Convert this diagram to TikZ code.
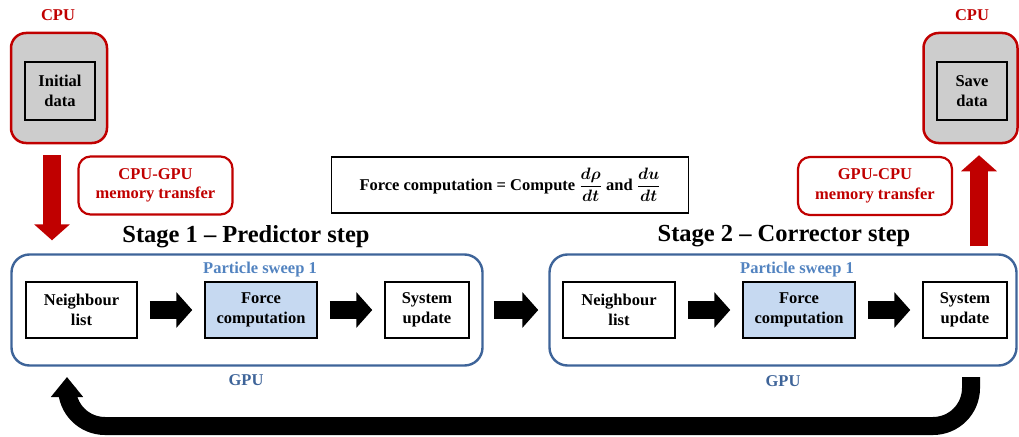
\documentclass[tikz,border=0pt]{standalone}
\usepackage{fix-cm}
\usepackage{amsmath,bm}
\usepackage{fontspec}
\setmainfont{Liberation Serif}
\usetikzlibrary{arrows.meta}
\definecolor{cpured}{HTML}{C00000}
\definecolor{cpugray}{HTML}{CDCDCD}
\definecolor{gpublue}{HTML}{3E6499}
\definecolor{sweepblue}{HTML}{5283C0}
\definecolor{forceblue}{HTML}{C6D9F1}
\tikzset{
  every node/.style={font=\fontsize{16.5}{19.5}\selectfont\bfseries},
  title/.style={font=\fontsize{24.5}{28}\selectfont\bfseries},
  cpubox/.style={draw=cpured, line width=2.5pt, fill=cpugray, rounded corners=15pt, minimum width=96pt, minimum height=110pt},
  databox/.style={draw=black, line width=1.5pt, fill=cpugray, minimum width=70pt, minimum height=58pt, align=center},
  memobox/.style={draw=cpured, line width=2.2pt, rounded corners=12pt, text=cpured, align=center, minimum width=154pt, minimum height=58pt},
  gpubox/.style={draw=gpublue, line width=2.4pt, rounded corners=18pt, minimum height=111pt},
  stepbox/.style={draw=black, line width=1.5pt, fill=white, minimum height=56pt, align=center},
  forcebox/.style={stepbox, fill=forceblue},
  blockarrow/.style={line width=18pt, -{Triangle[width=35pt,length=16pt]}, shorten <=12pt, shorten >=12pt},
  transfer/.style={line width=18pt, cpured, -{Triangle[width=35pt,length=16pt]}},
  looparrow/.style={line width=18pt, rounded corners=38pt, -{Triangle[width=31pt,length=20pt]}}
}
\begin{document}
\begin{tikzpicture}[x=1pt,y=-1pt]
    \useasboundingbox (0,0) rectangle (1019,436);
    % CPU side
    \node[text=cpured] (cpulabel1) at (58,15) {CPU};
    \node[cpubox] (cpu1) at (59,88) {};
    \node[databox] (init) at (60,91) {Initial\\data};
    \node[text=cpured] (cpulabel2) at (972,15) {CPU};
    \node[cpubox, minimum width=94pt] (cpu2) at (970.5,88) {};
    \node[databox] (save) at (972,91) {Save\\data};
    \node[memobox] (memo1) at (155.5,185.5) {CPU-GPU\\memory transfer};
    \node[memobox] (memo2) at (875,186) {GPU-CPU\\memory transfer};
    \node[draw, line width=1.5pt, minimum width=357pt, minimum height=56pt] (eq) at (510,185)
        {Force computation = Compute $\dfrac{\bm{d\rho}}{\bm{dt}}$ and $\dfrac{\bm{du}}{\bm{dt}}$};
    % GPU stages
    \node[title] (stage1) at (246,237) {Stage 1 -- Predictor step};
    \node[title] (stage2) at (784,236) {Stage 2 -- Corrector step};
    \node[gpubox, minimum width=471pt] (gpu1) at (247,310) {};
    \node[gpubox, minimum width=467pt] (gpu2) at (783,310) {};
    \node[text=sweepblue] (sweep1) at (260,270) {Particle sweep 1};
    \node[text=sweepblue] (sweep2) at (797,270) {Particle sweep 1};
    \node[text=gpublue] (gpulabel1) at (246,380) {GPU};
    \node[text=gpublue] (gpulabel2) at (783,381) {GPU};
    \node[stepbox, minimum width=111pt] (nl1) at (81.5,310) {Neighbour\\list};
    \node[forcebox, minimum width=112pt] (fc1) at (261,310) {Force\\computation};
    \node[stepbox, minimum width=84pt] (su1) at (427,310) {System\\update};
    \node[stepbox, minimum width=112pt] (nl2) at (619,310) {Neighbour\\list};
    \node[forcebox, minimum width=112pt] (fc2) at (799,310) {Force\\computation};
    \node[stepbox, minimum width=84pt] (su2) at (965,310) {System\\update};
    % arrows
    \draw[blockarrow] (nl1) -- (fc1);
    \draw[blockarrow] (fc1) -- (su1);
    \draw[blockarrow, shorten <=24pt, shorten >=24pt] (su1) -- (nl2);
    \draw[blockarrow] (nl2) -- (fc2);
    \draw[blockarrow] (fc2) -- (su2);
    \draw[transfer, shorten <=11pt, shorten >=13pt] ([xshift=-7pt]cpu1.south) -- ([xshift=-195pt]gpu1.north);
    \draw[transfer, shorten <=7pt, shorten >=11pt] ([xshift=196pt]gpu2.north) -- ([xshift=8.5pt]cpu2.south);
    \coordinate (loopout) at (971,377);
    \coordinate (loopin) at (67,377);
    \draw[looparrow] (loopout) -- (971,426) -- (67,426) -- (loopin);
\end{tikzpicture}
\end{document}
